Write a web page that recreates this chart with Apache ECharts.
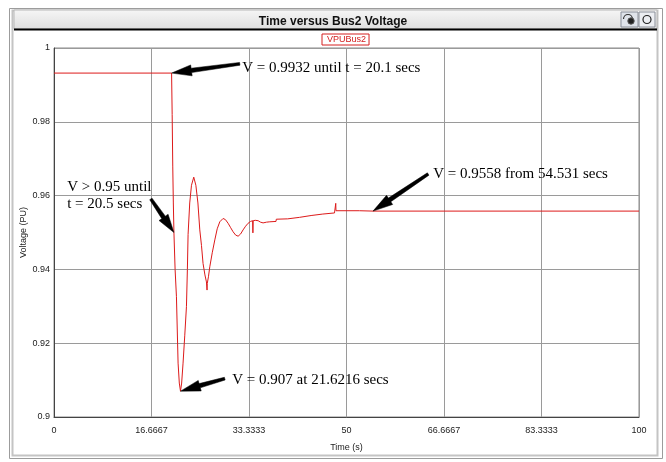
<!DOCTYPE html>
<html>
<head>
<meta charset="utf-8">
<script src="https://cdn.jsdelivr.net/npm/echarts@6/dist/echarts.min.js"></script>
<style>
  html, body { margin: 0; padding: 0; background: #fff; }
  #chart { width: 666px; height: 462px; }
</style>
</head>
<body>
<div id="chart"></div>
<script>
// Bus2 voltage response (per unit) over time (seconds)
const timeSec = [0, 20.1, 20.2, 20.3, 20.4, 20.5, 20.7, 20.93, 21.21, 21.42, 21.6216, 21.82, 22.06, 22.35, 22.64, 22.8, 22.92, 23.2, 23.5, 23.89, 24.25, 24.6, 24.92, 25.21, 25.48, 25.8, 26.06, 26.15, 26.16, 26.2, 26.4, 26.63, 27.05, 27.49, 27.9, 28.34, 28.9, 29.3, 29.76, 30.2, 30.61, 31.05, 31.47, 31.9, 32.32, 32.75, 33.18, 33.6, 33.95, 34.0, 34.05, 34.4, 34.89, 35.3, 35.74, 36.33, 36.89, 37.95, 38.0, 39.95, 40.0, 41.95, 42.0, 43.95, 44.0, 45.95, 46.0, 47.95, 48.0, 48.15, 48.16, 48.2, 52.2, 52.3, 54.531, 100];
const voltagePU = [0.9932, 0.9932, 0.982, 0.968, 0.958, 0.950, 0.940, 0.9326, 0.9146, 0.9092, 0.907, 0.9092, 0.9146, 0.922, 0.9299, 0.940, 0.9495, 0.958, 0.9628, 0.9650, 0.9628, 0.958, 0.9507, 0.9465, 0.9416, 0.9385, 0.9366, 0.9362, 0.9344, 0.9362, 0.9380, 0.9407, 0.9445, 0.9480, 0.9510, 0.9529, 0.9538, 0.9535, 0.9525, 0.9513, 0.9502, 0.9493, 0.9490, 0.9496, 0.9507, 0.9517, 0.9525, 0.9530, 0.9532, 0.9499, 0.9532, 0.9533, 0.9532, 0.9528, 0.9526, 0.9528, 0.9529, 0.9530, 0.9536, 0.9537, 0.9540, 0.9541, 0.9545, 0.9546, 0.9550, 0.9550, 0.9552, 0.9553, 0.9556, 0.9556, 0.9579, 0.9559, 0.9559, 0.9558, 0.9558, 0.9558];

const xTickLabels = ['0', '16.6667', '33.3333', '50', '66.6667', '83.3333', '100'];
const yTickLabels = ['0.9', '0.92', '0.94', '0.96', '0.98', '1'];

const seriesName = 'VPUBus2';
const chartTitle = 'Time versus Bus2 Voltage';
const xAxisName = 'Time (s)';
const yAxisName = 'Voltage (PU)';

// Callout notes: text, anchor of the text [t, V], arrow tail and arrow head [t, V]
const noteTexts = [
  'V = 0.9932 until t = 20.1 secs',
  'V > 0.95 until\nt = 20.5 secs',
  'V = 0.9558 from 54.531 secs',
  'V = 0.907 at 21.6216 secs'
];
const noteAnchors = [[32.1, 0.99463], [2.17, 0.96003], [64.74, 0.96586], [30.39, 0.90996]];
const arrowTails = [[31.76, 0.99571], [16.56, 0.9591], [63.96, 0.96586], [29.19, 0.9104]];
const arrowHeads = [[20.1, 0.9932], [20.5, 0.950], [54.531, 0.9558], [21.6216, 0.907]];

const seriesData = timeSec.map((t, i) => [t, voltagePU[i]]);
const arrowData = arrowTails.map((tail, i) => [tail[0], tail[1], arrowHeads[i][0], arrowHeads[i][1]]);

const chart = echarts.init(document.getElementById('chart'), null, { renderer: 'canvas' });

const xStep = 100 / 6;
const labelFont = 'Liberation Sans';

// Filled arrow from the note towards the curve: slim shaft, long pointed head
function renderArrow(params, api) {
  const p0 = api.coord([api.value(0), api.value(1)]);
  const p1 = api.coord([api.value(2), api.value(3)]);
  const dx = p1[0] - p0[0], dy = p1[1] - p0[1];
  const len = Math.sqrt(dx * dx + dy * dy) || 1;
  const ux = dx / len, uy = dy / len;
  const nx = -uy, ny = ux;
  const headLen = Math.min(20, len * 0.45), headW = 5.5, shaftTail = 1.4, shaftBase = 2.2;
  const bx = p1[0] - ux * headLen, by = p1[1] - uy * headLen;
  const pts = [
    [p0[0] + nx * shaftTail, p0[1] + ny * shaftTail],
    [bx + nx * shaftBase, by + ny * shaftBase],
    [bx + nx * headW, by + ny * headW],
    [p1[0], p1[1]],
    [bx - nx * headW, by - ny * headW],
    [bx - nx * shaftBase, by - ny * shaftBase],
    [p0[0] - nx * shaftTail, p0[1] - ny * shaftTail]
  ];
  return { type: 'polygon', shape: { points: pts }, style: { fill: '#000', stroke: '#000', lineWidth: 0.5 } };
}

chart.setOption({
  animation: false,
  backgroundColor: '#ffffff',
  title: {
    text: chartTitle,
    left: 'center',
    top: 11,
    textStyle: { fontFamily: labelFont, fontSize: 12, fontWeight: 'bold', color: '#111' }
  },
  legend: {
    data: [seriesName],
    left: 322,
    top: 34,
    icon: 'none',
    itemWidth: 0,
    itemHeight: 0,
    itemGap: 0,
    padding: [1, 3, 1, 0],
    borderColor: '#d42020',
    borderWidth: 1,
    backgroundColor: '#fff',
    selectedMode: false,
    textStyle: { color: '#d42020', fontFamily: labelFont, fontSize: 9, padding: [1, 0, 0, 0] }
  },
  grid: { left: 54, right: 27, top: 48, bottom: 45, show: true, borderColor: '#8a8a8a', borderWidth: 1 },
  xAxis: {
    type: 'value',
    min: 0,
    max: 100,
    interval: xStep,
    name: xAxisName,
    nameLocation: 'middle',
    nameGap: 26,
    nameTextStyle: { fontFamily: labelFont, fontSize: 9, color: '#222' },
    axisLine: { lineStyle: { color: '#444' } },
    axisTick: { show: false },
    axisLabel: {
      fontFamily: labelFont, fontSize: 9, color: '#222', margin: 9,
      formatter: v => xTickLabels[Math.round(v / xStep)] || ''
    },
    splitLine: { lineStyle: { color: '#9a9a9a', width: 1 } }
  },
  yAxis: {
    type: 'value',
    min: 0.9,
    max: 1,
    interval: 0.02,
    name: yAxisName,
    nameLocation: 'middle',
    nameGap: 26,
    nameMoveOverlap: false,
    nameTextStyle: { fontFamily: labelFont, fontSize: 9, color: '#222' },
    axisLine: { show: true, lineStyle: { color: '#444' } },
    axisTick: { show: false },
    axisLabel: {
      fontFamily: labelFont, fontSize: 9, color: '#222', margin: 4,
      formatter: v => yTickLabels[Math.round((v - 0.9) / 0.02)] || ''
    },
    splitLine: { lineStyle: { color: '#9a9a9a', width: 1 } }
  },
  series: [{
    name: seriesName,
    type: 'line',
    data: seriesData,
    showSymbol: false,
    symbol: 'none',
    lineStyle: { color: '#dd1a1a', width: 1 },
    itemStyle: { color: '#dd1a1a' },
    markPoint: {
      silent: true,
      symbol: 'circle',
      symbolSize: 1,
      itemStyle: { color: 'rgba(0,0,0,0)' },
      label: {
        show: true,
        position: 'right',
        distance: 0,
        color: '#000',
        fontFamily: 'Liberation Serif',
        fontSize: 15,
        lineHeight: 17,
        align: 'left'
      },
      data: noteAnchors.map((c, i) => ({ coord: c, label: { formatter: noteTexts[i] } }))
    }
  }, {
    name: 'arrows',
    type: 'custom',
    renderItem: renderArrow,
    data: arrowData,
    encode: { x: [0, 2], y: [1, 3] },
    clip: false,
    silent: true,
    z: 5
  }],
  graphic: [
    // window frame
    { type: 'rect', shape: { x: 9.5, y: 8.5, width: 653, height: 450 }, style: { fill: 'none', stroke: '#9c9c9c', lineWidth: 1 }, z: -10 },
    { type: 'rect', shape: { x: 12.5, y: 10.5, width: 645, height: 445 }, style: { fill: 'none', stroke: '#c4c4c4', lineWidth: 2 }, z: -10 },
    // title bar
    {
      type: 'rect', shape: { x: 14, y: 10, width: 643, height: 19 },
      style: { fill: new echarts.graphic.LinearGradient(0, 0, 0, 1, [{ offset: 0, color: '#f6f6f6' }, { offset: 1, color: '#dedede' }]), stroke: '#b8b8b8', lineWidth: 1 },
      z: -5
    },
    { type: 'line', shape: { x1: 14, y1: 29.5, x2: 657, y2: 29.5 }, style: { stroke: '#000', lineWidth: 2 }, z: -4 },
    // title bar buttons
    { type: 'rect', shape: { x: 621, y: 12, width: 17, height: 15 }, style: { fill: '#dfe3ea', stroke: '#8a8f99', lineWidth: 1 }, z: -3 },
    { type: 'rect', shape: { x: 639, y: 12, width: 16, height: 15 }, style: { fill: '#eceef2', stroke: '#8a8f99', lineWidth: 1 }, z: -3 },
    { type: 'arc', shape: { cx: 628, cy: 19, r: 4.5, startAngle: Math.PI, endAngle: Math.PI * 2 }, style: { fill: 'none', stroke: '#333', lineWidth: 1.2 }, z: -2 },
    { type: 'circle', shape: { cx: 631, cy: 21, r: 3.2 }, style: { fill: '#222', stroke: '#555', lineWidth: 1 }, z: -2 },
    { type: 'circle', shape: { cx: 647, cy: 19.5, r: 4 }, style: { fill: 'none', stroke: '#222', lineWidth: 1.2 }, z: -2 }
  ]
});
</script>
</body>
</html>
